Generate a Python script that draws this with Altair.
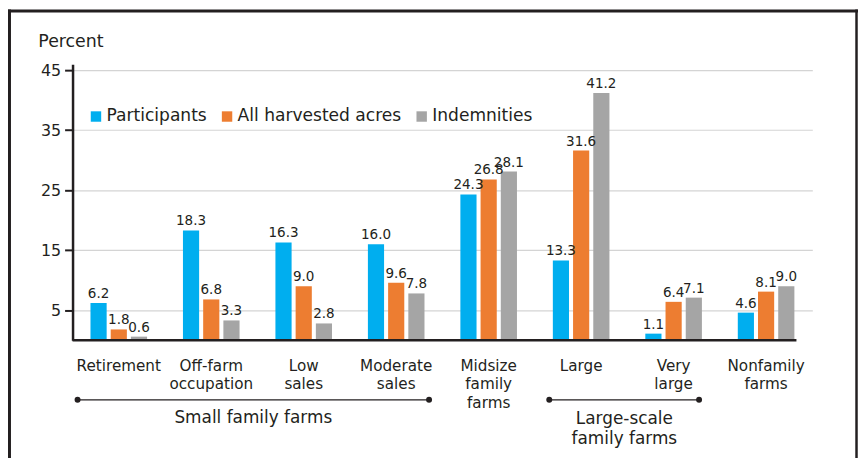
import altair as alt
import pandas as pd

categories = ["Retirement", "Off-farm occupation", "Low sales", "Moderate sales",
              "Midsize family farms", "Large", "Very large", "Nonfamily farms"]
series = ["Participants", "All harvested acres", "Indemnities"]
participants = [6.2, 18.3, 16.3, 16.0, 24.3, 13.3, 1.1, 4.6]
harvested = [1.8, 6.8, 9.0, 9.6, 26.8, 31.6, 6.4, 8.1]
indemnities = [0.6, 3.3, 2.8, 7.8, 28.1, 41.2, 7.1, 9.0]
colors = ["#00AEEF", "#ED7D31", "#A5A5A5"]
y_ticks = [5, 10, 15, 20, 25, 30, 35, 40, 45]

# brackets: label, first category, last category
brackets = [
    ("Small family farms", "Retirement", "Moderate sales"),
    ("Large-scale\nfamily farms", "Large", "Very large"),
]

rows = []
for vals, s in zip([participants, harvested, indemnities], series):
    for c, v in zip(categories, vals):
        rows.append({"category": c, "series": s, "value": v})
df = pd.DataFrame(rows)

FONT = "DejaVu Sans"
DARK = "#231f20"
W, H = 745, 278

x_scale = alt.Scale(domain=categories, paddingInner=0.388, paddingOuter=0.194)
x_enc = alt.X("category:N", sort=categories, scale=x_scale,
              axis=alt.Axis(title=None, domain=False, ticks=False, grid=False,
                            labelExpr="split(datum.label, ' ')",
                            labelFont=FONT, labelFontSize=15.3, labelColor=DARK,
                            labelLineHeight=19, labelPadding=18, labelAngle=0,
                            labelBaseline="top"))
y_enc = alt.Y("value:Q", scale=alt.Scale(domain=[0, 46], nice=False, zero=True),
              axis=alt.Axis(title="Percent", titleAngle=0, titleAlign="left",
                            titleBaseline="alphabetic", titleX=-35, titleY=-18,
                            titleFont=FONT, titleFontSize=17.5, titleFontWeight="normal",
                            titleColor=DARK,
                            values=y_ticks,
                            labelExpr="datum.value % 10 == 5 ? datum.label : ''",
                            labelFont=FONT, labelFontSize=16, labelColor=DARK,
                            labelPadding=4, tickSize=8, tickColor=DARK, tickWidth=2,
                            domainColor=DARK, domainWidth=2.5,
                            grid=True, gridColor="#d4d4d4", gridWidth=1.2))

base = alt.Chart(df)

bars = base.mark_bar().encode(
    x=x_enc,
    y=y_enc,
    xOffset=alt.XOffset("series:N", sort=series,
                        scale=alt.Scale(domain=series, paddingInner=0.2, paddingOuter=0)),
    color=alt.Color("series:N", sort=series,
                    scale=alt.Scale(domain=series, range=colors),
                    legend=alt.Legend(title=None, orient="none", direction="horizontal",
                                      legendX=15, legendY=44,
                                      symbolType="square", symbolSize=110,
                                      symbolStrokeWidth=0, symbolOpacity=1,
                                      labelFont=FONT, labelFontSize=17.2,
                                      labelColor=DARK, labelOffset=2, labelLimit=0,
                                      columnPadding=11, padding=0)),
)

labels = base.mark_text(baseline="bottom", dy=-2, font=FONT, fontSize=13.6,
                        color=DARK).encode(
    x=alt.X("category:N", sort=categories),
    y="value:Q",
    xOffset=alt.XOffset("series:N", sort=series),
    text=alt.Text("value:Q", format=".1f"),
)

baseline = alt.Chart(pd.DataFrame({"v": [0]})).mark_rule(
    color=DARK, strokeWidth=2.5).encode(
    y=alt.Y("v:Q"), x=alt.value(0), x2=alt.value(729))

# bracket annotations: (start band pos, start px shift, end band pos, end px shift,
#                       label px shift from start band, label top y)
bracket_style = [(0.0, -13, 1.0, 4.6, 164, 348), (0.0, -3.6, 0.95, 0, 72, 349)]
layers = []
for (lab, c0, c1), (b0, o0, b1, o1, tm, ty) in zip(brackets, bracket_style):
    bdf = pd.DataFrame({"start": [c0], "end": [c1], "label": [lab]})
    bc = alt.Chart(bdf)
    layers.append(bc.mark_rule(color=DARK, strokeWidth=1.3, xOffset=o0,
                               x2Offset=o1).encode(
        x=alt.X("start:N", bandPosition=b0),
        x2=alt.X2("end:N", bandPosition=b1),
        y=alt.value(338)))
    layers.append(bc.mark_point(filled=True, color=DARK, size=36, opacity=1,
                                xOffset=o0).encode(
        x=alt.X("start:N", bandPosition=b0), y=alt.value(338)))
    layers.append(bc.mark_point(filled=True, color=DARK, size=36, opacity=1,
                                xOffset=o1).encode(
        x=alt.X("end:N", bandPosition=b1), y=alt.value(338)))
    layers.append(bc.mark_text(font=FONT, fontSize=17, color=DARK, baseline="top",
                               align="center", lineBreak="\n", lineHeight=20,
                               xOffset=tm).encode(
        x=alt.X("start:N", bandPosition=0), y=alt.value(ty), text="label:N"))

# outer frame
frame_df = pd.DataFrame({"k": [0]})
fc = alt.Chart(frame_df)
frame = [
    fc.mark_rule(color=DARK, strokeWidth=3).encode(
        x=alt.value(-65), x2=alt.value(791), y=alt.value(-53.5)),
    fc.mark_rule(color=DARK, strokeWidth=3).encode(
        x=alt.value(-63.5), y=alt.value(-55), y2=alt.value(400)),
    fc.mark_rule(color=DARK, strokeWidth=2.5).encode(
        x=alt.value(789.5), y=alt.value(-55), y2=alt.value(400)),
]

chart = alt.layer(bars, labels, baseline, *layers, *frame).properties(
    width=W, height=H,
    background="white",
    padding={"left": 65, "top": 55, "right": 46, "bottom": 117},
    autosize=alt.AutoSizeParams(type="none"),
).configure_view(stroke="transparent", strokeWidth=0)

chart.save("out.html", embed_options={"renderer": "svg", "actions": False})
